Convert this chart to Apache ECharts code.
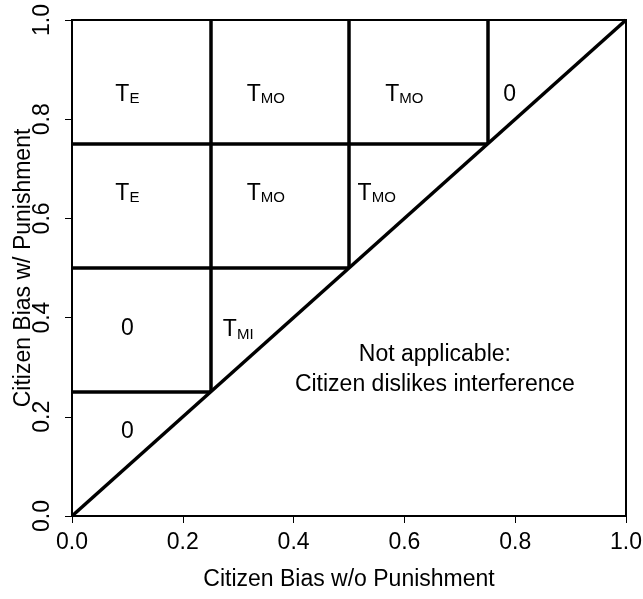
<!DOCTYPE html>
<html>
<head>
<meta charset="utf-8">
<script src="https://cdn.jsdelivr.net/npm/echarts@6/dist/echarts.min.js"></script>
<style>
  html, body { margin: 0; padding: 0; background: #fff; }
  #chart { width: 643px; height: 599px; }
</style>
</head>
<body>
<div id="chart"></div>
<script>
// tick labels on both axes
const tickValues = [0, 0.2, 0.4, 0.6, 0.8, 1.0];

// region boundaries, each a segment [[x1, y1], [x2, y2]]
const segments = [
  [[0, 0], [1, 1]],
  [[0, 0.25], [0.25, 0.25]],
  [[0, 0.5], [0.5, 0.5]],
  [[0, 0.75], [0.75, 0.75]],
  [[0.25, 0.25], [0.25, 1]],
  [[0.5, 0.5], [0.5, 1]],
  [[0.75, 0.75], [0.75, 1]]
];

// region labels: [x, y, main, subscript]
const regionLabels = [
  [0.1, 0.85, 'T', 'E'],
  [0.35, 0.85, 'T', 'MO'],
  [0.6, 0.85, 'T', 'MO'],
  [0.79, 0.85, '0', ''],
  [0.1, 0.65, 'T', 'E'],
  [0.35, 0.65, 'T', 'MO'],
  [0.55, 0.65, 'T', 'MO'],
  [0.1, 0.377, '0', ''],
  [0.3, 0.375, 'T', 'MI'],
  [0.1, 0.171, '0', '']
];

const noteText = ['Not applicable:', 'Citizen dislikes interference'];
const notePos = [0.655, 0.295];

const font = 'Liberation Sans, Arial, sans-serif';
const chart = echarts.init(document.getElementById('chart'));

chart.setOption({
  backgroundColor: '#fff',
  animation: false,
  grid: {
    left: 72, right: 17, top: 20, bottom: 83,
    outerBoundsMode: 'none', containLabel: false,
    show: true, borderColor: '#000', borderWidth: 2, backgroundColor: 'transparent'
  },
  xAxis: {
    type: 'value', min: 0, max: 1, interval: 0.2,
    name: 'Citizen Bias w/o Punishment',
    nameLocation: 'middle', nameGap: 52, nameMoveOverlap: false,
    nameTextStyle: { color: '#000', fontSize: 23, fontFamily: font },
    axisLine: { show: false },
    axisTick: { show: true, length: 7, lineStyle: { color: '#000', width: 1 } },
    axisLabel: { color: '#000', fontSize: 23, fontFamily: font, margin: 15,
      formatter: v => v.toFixed(1) },
    splitLine: { show: false }
  },
  yAxis: {
    type: 'value', min: 0, max: 1, interval: 0.2,
    name: 'Citizen Bias w/ Punishment',
    nameLocation: 'middle', nameGap: 37, nameMoveOverlap: false,
    nameTextStyle: { color: '#000', fontSize: 23, fontFamily: font },
    axisLine: { show: false },
    axisTick: { show: true, length: 7, lineStyle: { color: '#000', width: 1 } },
    axisLabel: { color: '#000', fontSize: 23, fontFamily: font, margin: 18, rotate: 90,
      formatter: v => v.toFixed(1) },
    splitLine: { show: false }
  },
  series: [
    {
      type: 'lines',
      coordinateSystem: 'cartesian2d',
      silent: true,
      lineStyle: { color: '#000', width: 3.5, opacity: 1 },
      data: segments.map(s => ({ coords: s }))
    },
    {
      type: 'scatter',
      symbolSize: 0,
      silent: true,
      itemStyle: { opacity: 1 },
      label: {
        show: true, position: 'inside', color: '#000', fontFamily: font,
        textBorderWidth: 0,
        formatter: p => p.data[3] ? '{t|' + p.data[2] + '}{s|' + p.data[3] + '}' : '{t|' + p.data[2] + '}',
        rich: {
          t: { fontSize: 23, color: '#000', fontFamily: font, lineHeight: 28, textBorderWidth: 0 },
          s: { fontSize: 15, color: '#000', fontFamily: font, padding: [9, 0, 0, 0], lineHeight: 28, textBorderWidth: 0 }
        }
      },
      data: regionLabels
    },
    {
      type: 'scatter',
      symbolSize: 0,
      silent: true,
      itemStyle: { opacity: 1 },
      label: {
        show: true, position: 'inside', color: '#000', fontFamily: font,
        fontSize: 23, lineHeight: 30, align: 'center', textBorderWidth: 0,
        formatter: () => noteText.join('\n')
      },
      data: [notePos]
    }
  ]
});
</script>
</body>
</html>
